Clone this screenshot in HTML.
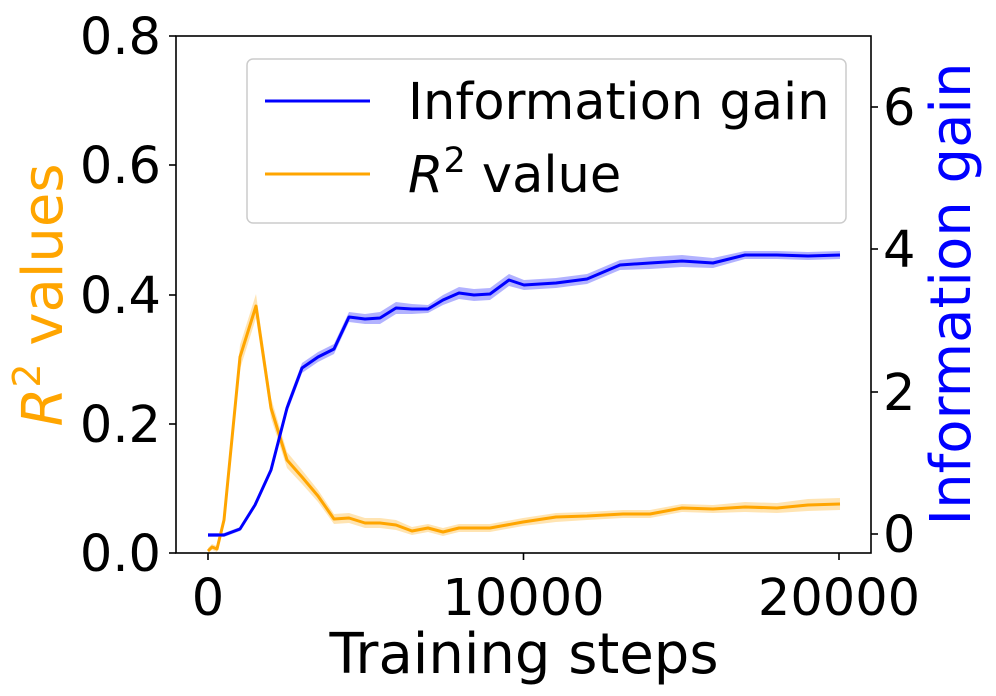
<!DOCTYPE html>
<html><head><style>body{margin:0;background:#fff}svg{display:block}text{font-family:"DejaVu Sans","Liberation Sans",sans-serif}</style></head>
<body>
<svg width="996" height="696" viewBox="0 0 996 696" xmlns="http://www.w3.org/2000/svg">
<rect width="996" height="696" fill="#fff"/>
<polygon fill="orange" opacity="0.3" points="208,548 212,544 217,546 224,515 240,345 256,294 271,398 287,452 302,470 318,490 334,514 349,513 365,518 380,518 396,520 412,527 428,524 443,528 459,524 490,524 523,518 556,513 587,512 623,510 650,510 682,504 713,505 745,502 777,503 808,499 840,498 840,510 808,511 777,513 745,512 713,513 682,512 650,518 623,518 587,520 556,522 523,526 490,532 459,532 443,536 428,532 412,535 396,530 380,528 365,528 349,523 334,524 318,502 302,484 287,468 271,418 256,318 240,369 224,525 217,552 212,550 208,553"/>
<polygon fill="blue" opacity="0.3" points="208,533 224,533 240,527 255,503 271,467 287,403 302,363 318,352 334,344 349,312 365,314 380,312 396,302 412,304 428,305 443,295 459,287 474,289 490,288 509,274 524,280 556,278 587,274 620,260 650,257 682,255 713,258 745,251 777,251 808,252 840,251 840,259 808,260 777,259 745,259 713,268 682,267 650,269 620,270 587,284 556,288 524,290 509,286 490,300 474,301 459,299 443,305 428,313 412,314 396,314 380,324 365,324 349,322 334,354 318,362 302,373 287,413 271,473 255,507 240,531 224,537 208,537"/>
<polyline fill="none" stroke="orange" stroke-width="3" stroke-linejoin="round" points="208,551 212,547 217,549 224,520 240,357 256,306 271,408 287,460 302,477 318,496 334,519 349,518 365,523 380,523 396,525 412,531 428,528 443,532 459,528 490,528 523,522 556,517 587,516 623,514 650,514 682,508 713,509 745,507 777,508 808,505 840,504"/>
<polyline fill="none" stroke="blue" stroke-width="3" stroke-linejoin="round" points="208,535 224,535 240,529 255,505 271,470 287,408 302,368 318,357 334,349 349,317 365,319 380,318 396,308 412,309 428,309 443,300 459,293 474,295 490,294 509,280 524,285 556,283 587,279 620,265 650,263 682,261 713,263 745,255 777,255 808,256 840,255"/>
<rect x="176" y="36" width="695" height="517" fill="none" stroke="#000" stroke-width="1.6"/>
<g stroke="#000" stroke-width="1.6">
<line x1="176" y1="553" x2="169" y2="553"/><line x1="176" y1="424" x2="169" y2="424"/><line x1="176" y1="295" x2="169" y2="295"/><line x1="176" y1="165" x2="169" y2="165"/><line x1="176" y1="36" x2="169" y2="36"/>
<line x1="871" y1="534" x2="878" y2="534"/><line x1="871" y1="392" x2="878" y2="392"/><line x1="871" y1="249" x2="878" y2="249"/><line x1="871" y1="107" x2="878" y2="107"/>
<line x1="208" y1="553" x2="208" y2="560"/><line x1="523.5" y1="553" x2="523.5" y2="560"/><line x1="839" y1="553" x2="839" y2="560"/>
</g>
<g font-size="51" fill="#000" text-anchor="end">
<text x="161" y="571">0.0</text><text x="161" y="442">0.2</text><text x="161" y="313">0.4</text><text x="161" y="183">0.6</text><text x="161" y="54">0.8</text>
</g>
<g font-size="51" fill="#000" text-anchor="start">
<text x="883" y="552">0</text><text x="883" y="410">2</text><text x="883" y="267">4</text><text x="883" y="125">6</text>
</g>
<g font-size="51" fill="#000" text-anchor="middle">
<text x="208" y="615">0</text><text x="523.5" y="615">10000</text><text x="839" y="615">20000</text>
<text x="524" y="673" font-size="56">Training steps</text>
</g>
<text transform="translate(62,295) rotate(-90)" text-anchor="middle" font-size="56" fill="orange"><tspan font-style="italic">R</tspan><tspan font-size="38" dy="-22">2</tspan><tspan dy="22"> values</tspan></text>
<text transform="translate(970,294) rotate(-90)" text-anchor="middle" font-size="56" fill="blue">Information gain</text>
<rect x="247" y="59" width="599" height="164" rx="6" fill="#fff" fill-opacity="0.8" stroke="#ccc" stroke-width="1.5"/>
<line x1="265" y1="101" x2="370" y2="101" stroke="blue" stroke-width="3"/>
<line x1="265" y1="174" x2="370" y2="174" stroke="orange" stroke-width="3"/>
<text x="408" y="119" font-size="51" fill="#000">Information gain</text>
<text x="408" y="192" font-size="51" fill="#000"><tspan font-style="italic">R</tspan><tspan font-size="35" dy="-20">2</tspan><tspan dy="20"> value</tspan></text>
</svg>
</body></html>
